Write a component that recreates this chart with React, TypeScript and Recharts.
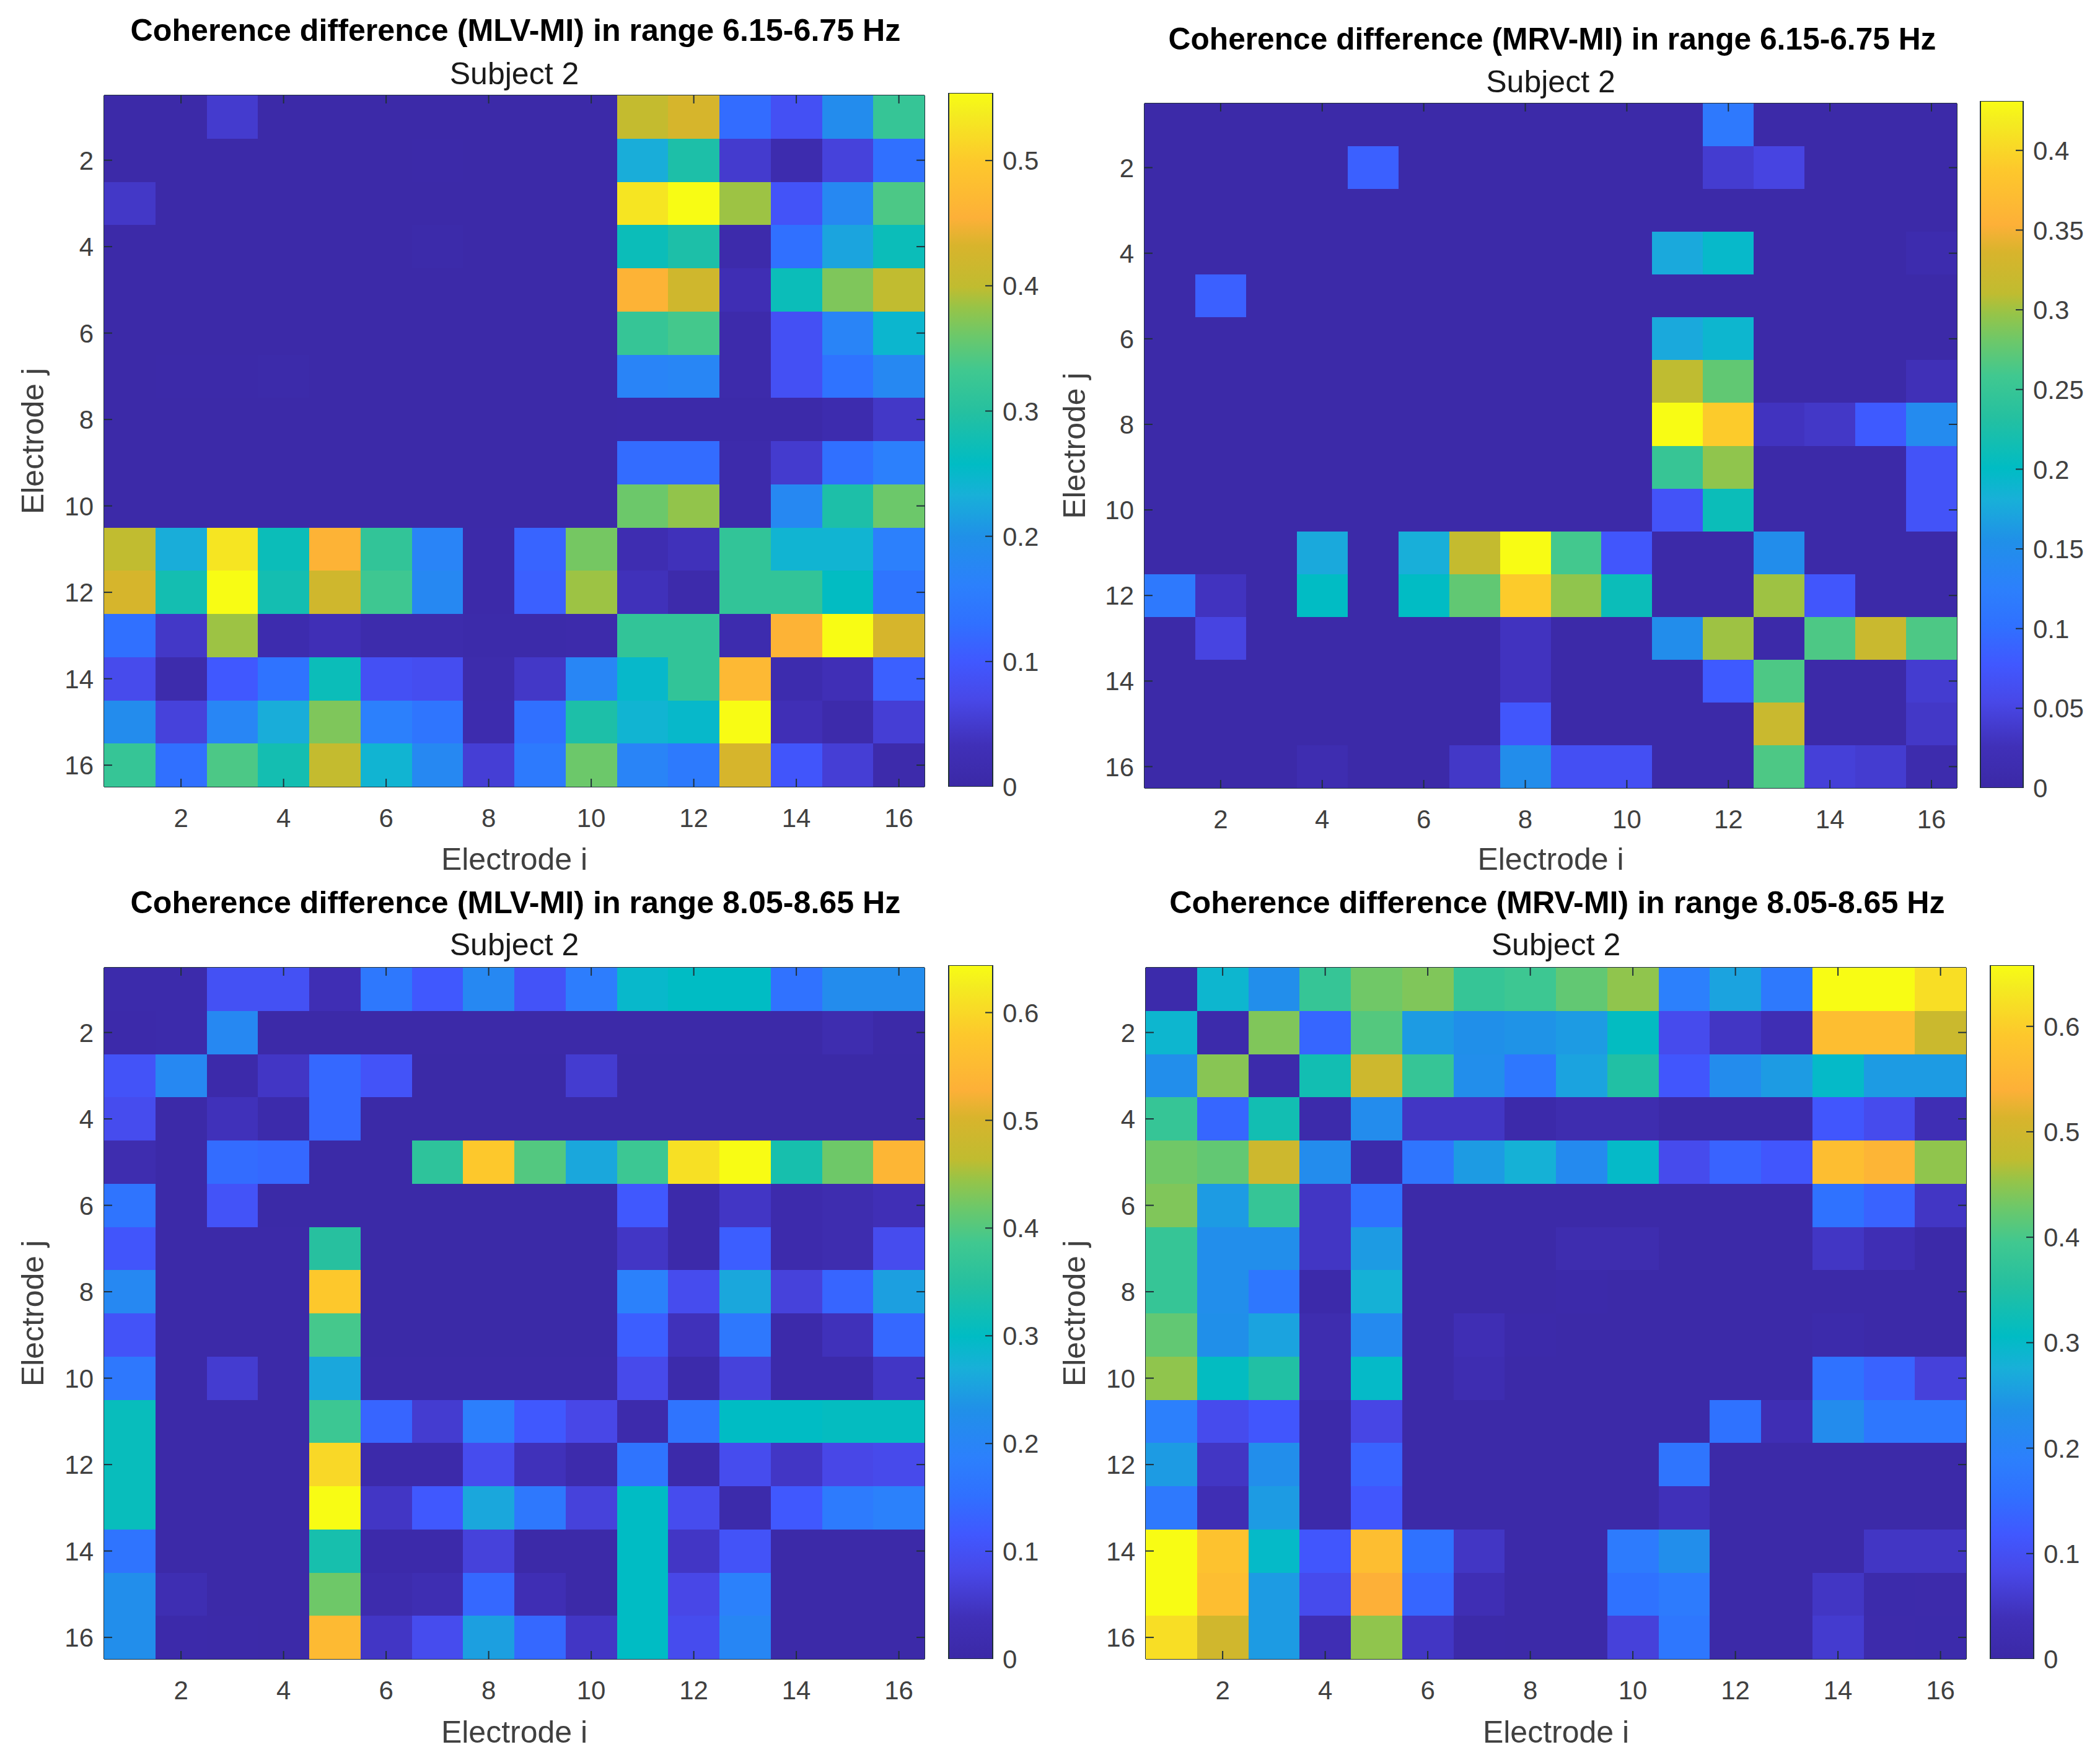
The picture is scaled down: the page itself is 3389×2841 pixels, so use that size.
import React from 'react';
import { ScatterChart, Scatter, XAxis, YAxis, BarChart, Bar } from 'recharts';

const electrodeTicks = [2, 4, 6, 8, 10, 12, 14, 16];

const paletteStops: [number, string][] = [
  [0, '#3b29a6'], [0.06, '#4030b8'], [0.126, '#4848e8'], [0.18, '#4058ff'], [0.235, '#3070ff'],
  [0.29, '#2c80fc'], [0.36, '#2090e8'], [0.42, '#18b0d8'], [0.465, '#00bcc4'], [0.54, '#25c0a0'],
  [0.6, '#40c890'], [0.65, '#6cc86a'], [0.69, '#96c448'], [0.72, '#c0bc30'], [0.78, '#d8b42c'],
  [0.82, '#fdb038'], [0.9, '#fdc82c'], [0.97, '#f4ec20'], [1, '#f8fc14'],
];

const mlv615: number[][] = [
  [.004,.004,.05,.004,.004,.004,.004,.004,.004,.004,.405,.43,.125,.085,.19,.32],
  [.004,.004,.004,.004,.004,.004,.006,.004,.004,.004,.23,.29,.05,.015,.06,.13],
  [.045,.004,.004,.004,.004,.004,.004,.004,.004,.004,.53,.554,.385,.09,.18,.34],
  [.004,.004,.004,.004,.004,.004,.008,.004,.004,.004,.27,.29,.01,.13,.22,.27],
  [.004,.004,.004,.004,.004,.004,.004,.004,.004,.004,.46,.42,.025,.27,.37,.40],
  [.004,.004,.004,.004,.004,.004,.004,.004,.004,.004,.32,.335,.01,.085,.17,.245],
  [.004,.005,.005,.008,.004,.004,.004,.004,.004,.004,.17,.175,.01,.085,.135,.18],
  [.004,.004,.004,.004,.004,.004,.004,.004,.004,.004,.005,.005,.005,.005,.015,.045],
  [.004,.004,.004,.004,.004,.004,.004,.004,.004,.004,.125,.125,.01,.05,.13,.16],
  [.004,.004,.004,.004,.004,.004,.004,.004,.004,.004,.36,.38,.01,.18,.29,.36],
  [.40,.23,.53,.27,.46,.315,.17,.005,.115,.365,.02,.035,.315,.24,.24,.16],
  [.43,.28,.554,.28,.42,.33,.18,.005,.11,.385,.035,.01,.315,.315,.26,.14],
  [.13,.045,.385,.015,.03,.012,.012,.008,.008,.01,.315,.315,.015,.46,.554,.43],
  [.075,.012,.10,.135,.27,.085,.08,.012,.045,.175,.25,.315,.47,.015,.03,.11],
  [.19,.06,.175,.23,.37,.16,.14,.015,.13,.29,.24,.25,.554,.03,.01,.055],
  [.32,.13,.34,.28,.405,.24,.18,.055,.15,.36,.17,.15,.43,.095,.055,.01],
];

const mrv615: number[][] = [
  [.003,.003,.003,.003,.003,.003,.003,.003,.003,.003,.003,.115,.003,.003,.003,.003],
  [.003,.003,.003,.003,.085,.003,.003,.003,.003,.003,.003,.04,.05,.003,.003,.003],
  [.003,.003,.003,.003,.003,.003,.003,.003,.003,.003,.003,.003,.003,.003,.003,.003],
  [.003,.003,.003,.003,.003,.003,.003,.003,.003,.003,.175,.195,.003,.003,.003,.012],
  [.003,.085,.003,.003,.003,.003,.003,.003,.003,.003,.003,.003,.003,.003,.003,.003],
  [.003,.003,.003,.003,.003,.003,.003,.003,.003,.003,.175,.19,.003,.003,.003,.003],
  [.003,.003,.003,.003,.003,.003,.003,.003,.003,.003,.31,.275,.003,.003,.003,.025],
  [.003,.003,.003,.003,.003,.003,.003,.003,.003,.003,.431,.39,.03,.035,.08,.145],
  [.003,.003,.003,.003,.003,.003,.003,.003,.003,.003,.25,.295,.003,.003,.003,.07],
  [.003,.003,.003,.003,.003,.003,.003,.003,.003,.003,.07,.21,.003,.003,.003,.07],
  [.003,.003,.003,.175,.003,.18,.315,.431,.26,.075,.003,.003,.15,.003,.003,.003],
  [.115,.03,.003,.20,.003,.20,.275,.39,.295,.21,.003,.003,.30,.075,.003,.003],
  [.003,.05,.003,.003,.003,.003,.003,.03,.003,.003,.15,.30,.005,.265,.32,.265],
  [.003,.003,.003,.003,.003,.003,.003,.03,.003,.003,.003,.08,.265,.003,.003,.04],
  [.003,.003,.003,.003,.003,.003,.003,.075,.003,.003,.003,.003,.32,.003,.003,.035],
  [.003,.003,.003,.015,.003,.003,.035,.15,.065,.065,.003,.003,.265,.045,.04,.01],
];

const mlv805: number[][] = [
  [.01,.01,.10,.10,.03,.17,.115,.21,.105,.18,.29,.30,.30,.155,.22,.22],
  [.008,.01,.21,.005,.005,.005,.005,.005,.005,.005,.005,.005,.005,.005,.02,.005],
  [.105,.21,.008,.05,.14,.105,.003,.003,.003,.06,.003,.003,.003,.003,.003,.003],
  [.09,.005,.04,.01,.14,.003,.003,.003,.003,.003,.003,.003,.003,.003,.003,.003],
  [.02,.005,.145,.14,.003,.003,.36,.58,.40,.26,.38,.61,.644,.33,.42,.54],
  [.16,.005,.105,.003,.003,.003,.003,.003,.003,.003,.115,.008,.05,.012,.02,.035],
  [.11,.004,.004,.004,.35,.003,.003,.003,.003,.003,.05,.008,.125,.012,.02,.09],
  [.21,.004,.004,.004,.58,.003,.003,.003,.003,.003,.19,.09,.26,.07,.135,.25],
  [.105,.004,.004,.004,.39,.003,.003,.003,.003,.003,.125,.04,.17,.008,.04,.14],
  [.17,.004,.06,.004,.26,.004,.004,.004,.004,.004,.085,.01,.07,.008,.008,.05],
  [.31,.004,.004,.004,.38,.135,.06,.185,.115,.08,.012,.16,.30,.30,.305,.305],
  [.31,.004,.004,.004,.60,.008,.008,.09,.04,.012,.16,.008,.09,.05,.08,.085],
  [.31,.004,.004,.004,.644,.05,.115,.26,.17,.07,.30,.09,.01,.115,.175,.19],
  [.16,.004,.004,.004,.33,.008,.008,.07,.005,.005,.30,.05,.105,.004,.004,.004],
  [.225,.025,.004,.004,.42,.015,.025,.14,.03,.005,.30,.08,.19,.004,.004,.004],
  [.225,.008,.006,.004,.55,.05,.09,.25,.14,.05,.30,.09,.205,.004,.004,.004],
];

const mrv805: number[][] = [
  [.01,.29,.23,.38,.43,.44,.38,.39,.42,.45,.19,.26,.175,.658,.658,.62],
  [.29,.01,.44,.14,.41,.25,.235,.24,.25,.31,.09,.05,.03,.57,.57,.49],
  [.23,.445,.01,.33,.495,.38,.23,.17,.26,.35,.115,.225,.25,.30,.25,.25],
  [.38,.14,.33,.01,.225,.05,.05,.008,.02,.02,.004,.004,.004,.115,.09,.03],
  [.43,.42,.495,.225,.01,.165,.25,.28,.22,.30,.09,.135,.115,.57,.55,.45],
  [.44,.25,.38,.05,.16,.004,.004,.004,.004,.004,.004,.004,.004,.16,.135,.05],
  [.38,.23,.23,.05,.25,.004,.004,.004,.02,.02,.004,.004,.004,.05,.03,.006],
  [.38,.23,.17,.008,.28,.004,.004,.004,.008,.005,.004,.004,.004,.004,.004,.004],
  [.42,.235,.26,.02,.22,.004,.03,.008,.005,.004,.004,.004,.004,.01,.004,.004],
  [.45,.31,.35,.02,.30,.004,.025,.004,.004,.004,.004,.004,.004,.16,.135,.07],
  [.19,.09,.115,.008,.08,.004,.004,.004,.004,.004,.004,.16,.03,.225,.17,.17],
  [.25,.05,.23,.008,.135,.004,.004,.004,.004,.004,.165,.004,.004,.004,.004,.004],
  [.175,.03,.25,.008,.115,.004,.004,.004,.004,.004,.04,.004,.004,.004,.004,.004],
  [.658,.58,.30,.115,.57,.16,.05,.006,.006,.18,.23,.004,.004,.004,.05,.05],
  [.658,.57,.25,.09,.54,.14,.03,.004,.004,.16,.18,.004,.004,.05,.01,.012],
  [.62,.50,.25,.03,.45,.05,.006,.004,.004,.07,.17,.004,.004,.06,.012,.01],
];

const panels = [
  { id: 'a', title: 'Coherence difference (MLV-MI) in range 6.15-6.75 Hz', matrix: mlv615, max: 0.554,
    cbTicks: [0, 0.1, 0.2, 0.3, 0.4, 0.5], titleSize: 50.2,
    plot: { x: 168, y: 154, w: 1324, h: 1116 }, cbX: 1531, cbW: 71, cbY: 150,
    titleX: 832, titleY: 48, subY: 118, xLabelY: 1386, yLabelX: 52 },
  { id: 'b', title: 'Coherence difference (MRV-MI) in range 6.15-6.75 Hz', matrix: mrv615, max: 0.431,
    cbTicks: [0, 0.05, 0.1, 0.15, 0.2, 0.25, 0.3, 0.35, 0.4], titleSize: 49.7,
    plot: { x: 1847, y: 167, w: 1311, h: 1105 }, cbX: 3196, cbW: 69, cbY: 163,
    titleX: 2505, titleY: 62, subY: 131, xLabelY: 1386, yLabelX: 1733 },
  { id: 'c', title: 'Coherence difference (MLV-MI) in range 8.05-8.65 Hz', matrix: mlv805, max: 0.644,
    cbTicks: [0, 0.1, 0.2, 0.3, 0.4, 0.5, 0.6], titleSize: 50.2,
    plot: { x: 168, y: 1562, w: 1324, h: 1116 }, cbX: 1531, cbW: 71, cbY: 1558,
    titleX: 832, titleY: 1456, subY: 1524, xLabelY: 2795, yLabelX: 52 },
  { id: 'd', title: 'Coherence difference (MRV-MI) in range 8.05-8.65 Hz', matrix: mrv805, max: 0.658,
    cbTicks: [0, 0.1, 0.2, 0.3, 0.4, 0.5, 0.6], titleSize: 50.2,
    plot: { x: 1849, y: 1562, w: 1324, h: 1116 }, cbX: 3212, cbW: 70, cbY: 1558,
    titleX: 2513, titleY: 1456, subY: 1524, xLabelY: 2795, yLabelX: 1733 },
];

const FONT = '"Liberation Sans", Arial, sans-serif';
const FRAME = '#20303a';
const TICK_TEXT = '#404040';
const TICK_LEN = 13;

function hexToRgb(h: string) {
  return [parseInt(h.slice(1, 3), 16), parseInt(h.slice(3, 5), 16), parseInt(h.slice(5, 7), 16)];
}

function colorOf(f: number) {
  const t = Math.max(0, Math.min(1, f));
  for (let k = 1; k < paletteStops.length; k++) {
    const [p1, c1] = paletteStops[k];
    if (t <= p1) {
      const [p0, c0] = paletteStops[k - 1];
      const a = (t - p0) / (p1 - p0);
      const A = hexToRgb(c0);
      const B = hexToRgb(c1);
      return `rgb(${A.map((v, n) => Math.round(v + (B[n] - v) * a)).join(',')})`;
    }
  }
  return paletteStops[paletteStops.length - 1][1];
}

function Panel({ p }: { p: (typeof panels)[number] }) {
  const padL = 160, padR = 10, padT = 150, padB = 145;
  const left = p.plot.x - padL;
  const top = p.plot.y - padT;
  const data = p.matrix.flatMap((row, j) => row.map((v, i) => ({ i: i + 1, j: j + 1, v })));
  const cw = p.plot.w / 16;
  const ch = p.plot.h / 16;
  const domain: [number, number] = [0.5, 16.5];
  const cx = p.plot.x + p.plot.w / 2;
  const cy = p.plot.y + p.plot.h / 2;

  const cell = (props: any) => (
    <rect
      x={props.cx - cw / 2}
      y={props.cy - ch / 2}
      width={cw + 0.5}
      height={ch + 0.5}
      fill={colorOf(props.payload.v / p.max)}
      shapeRendering="crispEdges"
    />
  );
  const bottomTick = (t: any) => (
    <g>
      <line x1={t.x} x2={t.x} y1={t.y} y2={t.y - TICK_LEN} stroke={FRAME} strokeWidth={2} />
      <text x={t.x} y={t.y + 50} dy="0.36em" textAnchor="middle" fontFamily={FONT} fontSize={42} fill={TICK_TEXT}>{t.payload.value}</text>
    </g>
  );
  const topTick = (t: any) => <line x1={t.x} x2={t.x} y1={t.y} y2={t.y + TICK_LEN} stroke={FRAME} strokeWidth={2} />;
  const leftTick = (t: any) => (
    <g>
      <line x1={t.x} x2={t.x + TICK_LEN} y1={t.y} y2={t.y} stroke={FRAME} strokeWidth={2} />
      <text x={t.x - 17} y={t.y} dy="0.36em" textAnchor="end" fontFamily={FONT} fontSize={42} fill={TICK_TEXT}>{t.payload.value}</text>
    </g>
  );
  const rightTick = (t: any) => <line x1={t.x} x2={t.x - TICK_LEN} y1={t.y} y2={t.y} stroke={FRAME} strokeWidth={2} />;
  const cbTick = (t: any) => (
    <g>
      {t.payload.value > 0 && <line x1={t.x} x2={t.x - 12} y1={t.y} y2={t.y} stroke={FRAME} strokeWidth={2} />}
      <text x={t.x + 16} y={t.y} dy="0.36em" textAnchor="start" fontFamily={FONT} fontSize={42} fill={TICK_TEXT}>{t.payload.value}</text>
    </g>
  );
  const axisLine = { stroke: FRAME, strokeWidth: 2 };
  const cbBottom = p.plot.y + p.plot.h;
  const cbAxisW = 140;

  return (
    <>
      <div style={{ position: 'absolute', left, top }}>
        <ScatterChart
          width={p.plot.w + padL + padR}
          height={p.plot.h + padT + padB}
          margin={{ top: 0, right: 0, bottom: 0, left: 0 }}
        >
          <Scatter data={data} dataKey="v" shape={cell} isAnimationActive={false} />
          <XAxis type="number" dataKey="i" domain={domain} ticks={electrodeTicks} allowDataOverflow interval={0}
            height={padB} tickSize={0} tickMargin={0} tickLine={false} tick={bottomTick} axisLine={axisLine} />
          <XAxis xAxisId="top" orientation="top" type="number" dataKey="i" domain={domain} ticks={electrodeTicks} allowDataOverflow interval={0}
            height={padT} tickSize={0} tickMargin={0} tickLine={false} tick={topTick} axisLine={axisLine} />
          <YAxis type="number" dataKey="j" domain={domain} reversed ticks={electrodeTicks} allowDataOverflow interval={0}
            width={padL} tickSize={0} tickMargin={0} tickLine={false} tick={leftTick} axisLine={axisLine} />
          <YAxis yAxisId="right" orientation="right" type="number" dataKey="j" domain={domain} reversed ticks={electrodeTicks} allowDataOverflow interval={0}
            width={padR} tickSize={0} tickMargin={0} tickLine={false} tick={rightTick} axisLine={axisLine} />
          <text x={p.titleX - left} y={p.titleY - top} dy="0.36em" textAnchor="middle" fontFamily={FONT} fontSize={p.titleSize} fontWeight="bold" fill="#000000">{p.title}</text>
          <text x={cx - left} y={p.subY - top} dy="0.36em" textAnchor="middle" fontFamily={FONT} fontSize={50} fill="#1a1a1a">Subject 2</text>
          <text x={cx - left} y={p.xLabelY - top} dy="0.36em" textAnchor="middle" fontFamily={FONT} fontSize={50} fill={TICK_TEXT}>Electrode i</text>
          <text transform={`translate(${p.yLabelX - left},${cy - top}) rotate(-90)`} dy="0.36em" textAnchor="middle" fontFamily={FONT} fontSize={50} fill={TICK_TEXT}>Electrode j</text>
        </ScatterChart>
      </div>
      <div style={{ position: 'absolute', left: p.cbX - 2, top: p.cbY - 2 }}>
        <BarChart
          width={p.cbW + 2 + cbAxisW}
          height={cbBottom - p.cbY + 4 + 30}
          data={[{ name: 'colorbar', value: p.max }]}
          margin={{ top: 2, right: 0, bottom: 32, left: 2 }}
          barCategoryGap={0}
        >
          <defs>
            <linearGradient id={`cb-${p.id}`} x1="0" y1="1" x2="0" y2="0">
              {paletteStops.map(([o, c]) => <stop key={o} offset={o} stopColor={c} />)}
            </linearGradient>
          </defs>
          <XAxis dataKey="name" hide />
          <Bar dataKey="value" fill={`url(#cb-${p.id})`} stroke={FRAME} strokeWidth={2} isAnimationActive={false} />
          <YAxis orientation="right" type="number" domain={[0, p.max]} ticks={p.cbTicks} allowDataOverflow interval={0}
            width={cbAxisW} tickSize={0} tickMargin={0} tickLine={false} tick={cbTick} axisLine={false} />
        </BarChart>
      </div>
    </>
  );
}

export default function App() {
  return (
    <div style={{ position: 'absolute', left: 0, top: 0, width: 3389, height: 2841, background: '#ffffff', overflow: 'hidden' }}>
      {panels.map((p) => <Panel key={p.id} p={p} />)}
    </div>
  );
}
